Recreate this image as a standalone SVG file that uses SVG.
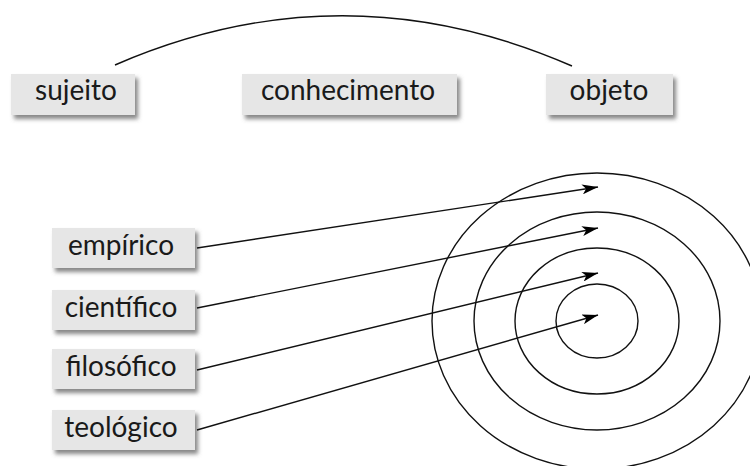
<svg xmlns="http://www.w3.org/2000/svg" width="750" height="466" viewBox="0 0 750 466">
<defs>
<filter id="sh" x="-10%" y="-20%" width="130%" height="160%">
<feDropShadow dx="3" dy="4" stdDeviation="2" flood-color="#555" flood-opacity="0.7"/>
</filter>
<marker id="ah" viewBox="0 0 16 10" refX="16" refY="5" markerWidth="16" markerHeight="10" markerUnits="userSpaceOnUse" orient="auto">
<path d="M0,0 L16,5 L0,10 L4,5 Z" fill="#000"/>
</marker>
<style>
.box{fill:#e6e6e6;filter:url(#sh)}
.lbl{font-family:Lato,"Liberation Sans",sans-serif;font-size:28px;fill:#1a1a1a;text-anchor:middle}
.ln{fill:none;stroke:#111;stroke-width:1.4}
.ring{fill:none;stroke:#111;stroke-width:1.4}
</style>
</defs>
<rect width="750" height="466" fill="#fff"/>
<g id="sujeito"><rect class="box" x="11" y="74" width="124" height="41"/><text class="lbl" x="76" y="100">sujeito</text></g>
<g id="conhecimento"><rect class="box" x="242" y="74" width="215" height="41"/><text class="lbl" x="348" y="100">conhecimento</text></g>
<g id="objeto"><rect class="box" x="546" y="74" width="127" height="41"/><text class="lbl" x="609" y="100">objeto</text></g>
<g id="empirico"><rect class="box" x="52" y="228" width="143" height="40"/><text class="lbl" x="121" y="255">empírico</text></g>
<g id="cientifico"><rect class="box" x="52" y="290" width="143" height="40"/><text class="lbl" x="121" y="317">científico</text></g>
<g id="filosofico"><rect class="box" x="52" y="349" width="143" height="40"/><text class="lbl" x="121" y="376">filosófico</text></g>
<g id="teologico"><rect class="box" x="52" y="410" width="143" height="40"/><text class="lbl" x="121" y="437">teológico</text></g>
<g id="alvo">
<ellipse class="ring" cx="597" cy="321" rx="41" ry="37"/>
<ellipse class="ring" cx="597" cy="321" rx="82" ry="73"/>
<ellipse class="ring" cx="597" cy="321" rx="123" ry="109"/>
<ellipse class="ring" cx="597" cy="321" rx="165" ry="148"/>
</g>
<g id="connectors">
<path class="ln" d="M115,65 Q343,-34 572,66"/>
<line class="ln" x1="197" y1="248" x2="598" y2="187" marker-end="url(#ah)"/>
<line class="ln" x1="197" y1="308" x2="598" y2="228" marker-end="url(#ah)"/>
<line class="ln" x1="197" y1="370" x2="598" y2="273" marker-end="url(#ah)"/>
<line class="ln" x1="197" y1="430" x2="598" y2="315" marker-end="url(#ah)"/>
</g>
</svg>
